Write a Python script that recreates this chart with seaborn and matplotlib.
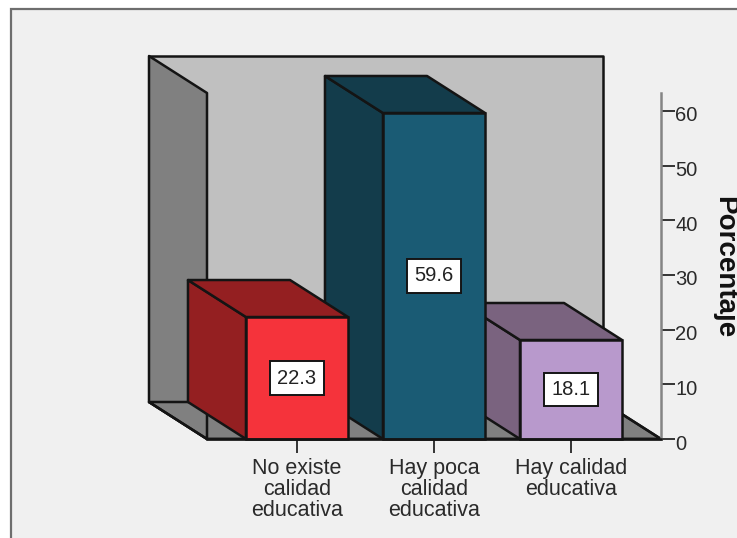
import matplotlib
matplotlib.use("Agg")
import matplotlib.pyplot as plt
from matplotlib.patches import Polygon, Rectangle
from matplotlib.transforms import ScaledTranslation
import pandas as pd
import seaborn as sns

categories = ["No existe\ncalidad\neducativa", "Hay poca\ncalidad\neducativa", "Hay calidad\neducativa"]
values = [22.3, 59.6, 18.1]
front_colors = ["#F5333B", "#1A5B74", "#B899CC"]
shade_colors = ["#941F21", "#133C4B", "#7A637F"]
y_ticks = [0, 10, 20, 30, 40, 50, 60]

W, H = 737, 538
FONT = "Liberation Sans"
EDGE = "#141414"
LW = 1.8
BASE_PX = 439
UNIT_PX = 5.47

sns.set_theme(style="white")
plt.rcParams["font.family"] = FONT

fig = plt.figure(figsize=(W / 100, H / 100), dpi=100, facecolor="white")

# Outer chart frame, running off the right and bottom of the canvas
fig.patches.append(Rectangle((11 / W, -0.05), 1.0, 1.05 - 9 / H, transform=fig.transFigure,
                             facecolor="#F0F0F0", edgecolor="#6E6E6E", linewidth=1.6, zorder=-1))

ax = fig.add_axes([207 / W, 1 - BASE_PX / H, (661 - 207) / W, (BASE_PX - 93) / H])
ax.patch.set_alpha(0)

df = pd.DataFrame({"categoria": categories, "porcentaje": values})
sns.barplot(data=df, x="categoria", y="porcentaje", hue="categoria", hue_order=categories,
            palette=front_colors, width=0.745, edgecolor=EDGE, linewidth=LW,
            saturation=1, legend=False, ax=ax)
bars = list(ax.patches)

x_min, x_max = -90 / 137, 364 / 137
y_max = (BASE_PX - 93) / UNIT_PX
ax.set_xlim(x_min, x_max)
ax.set_ylim(0, y_max)

# Oblique projection offset for the depth of the chart box
dx, dy = 58 / 137, 37 / UNIT_PX


def poly(points, face, z, edge=EDGE):
    ax.add_patch(Polygon(points, closed=True, facecolor=face, edgecolor=edge, linewidth=LW,
                         joinstyle="round", clip_on=False, zorder=z))


floor = [(x_min - dx, dy), (x_min, 0), (x_max, 0), (x_max - dx, dy)]

# Chart box: back wall, floor, side wall, then the floor outline over the side wall
poly([(x_min - dx, dy), (x_max - dx, dy), (x_max - dx, y_max + dy), (x_min - dx, y_max + dy)], "#C0C0C0", 0.5)
poly(floor, "#808080", 0.6)
poly([(x_min - dx, dy), (x_min, 0), (x_min, y_max), (x_min - dx, y_max + dy)], "#808080", 0.7)
poly(floor, "none", 0.8)

# Bars are stacked from right to left so nearer faces cover the ones behind
for i, bar in enumerate(bars):
    z = 3 + 2 * (len(values) - i)
    left, right = bar.get_x(), bar.get_x() + bar.get_width()
    top = bar.get_height()
    bar.set_zorder(z + 1)
    bar.set_clip_on(False)
    poly([(left, 0), (left, top), (left - dx, top + dy), (left - dx, dy)], shade_colors[i], z)
    poly([(left, top), (right, top), (right - dx, top + dy), (left - dx, top + dy)], shade_colors[i], z)
    ax.text((left + right) / 2, top / 2, f"{values[i]:.1f}", ha="center", va="center",
            fontsize=14.5, color="#222222", zorder=30,
            bbox=dict(boxstyle="square,pad=0.36", facecolor="white", edgecolor=EDGE, linewidth=1.4))

# Axes styling
for side in ("top", "left"):
    ax.spines[side].set_visible(False)
ax.spines["right"].set_color("#858585")
ax.spines["right"].set_linewidth(1.8)
ax.spines["bottom"].set_color(EDGE)
ax.spines["bottom"].set_linewidth(LW)
ax.spines["bottom"].set_zorder(20)

ax.yaxis.tick_right()
ax.set_yticks(y_ticks)
ax.set_yticklabels([str(t) for t in y_ticks])
ax.tick_params(axis="y", length=10.2, width=1.4, color="#333333", pad=0, labelsize=14.5,
               labelcolor="#2A2A2A", direction="out")
ax.tick_params(axis="x", length=10, width=1.4, color="#333333", pad=4, labelsize=15.5,
               labelcolor="#2A2A2A", bottom=True)
ax.set_xlabel("")
ax.set_ylabel("")

shift = ScaledTranslation(0, -3 / 100, fig.dpi_scale_trans)
for label in ax.get_yticklabels():
    label.set_transform(label.get_transform() + shift)
for label in ax.get_xticklabels():
    label.set_linespacing(1.0)

fig.text(724 / W, 1 - 267 / H, "Porcentaje", rotation=270, ha="center", va="center",
         fontsize=20, fontweight="bold", color="#111111")

fig.savefig("out.png", dpi=100, facecolor="white")
